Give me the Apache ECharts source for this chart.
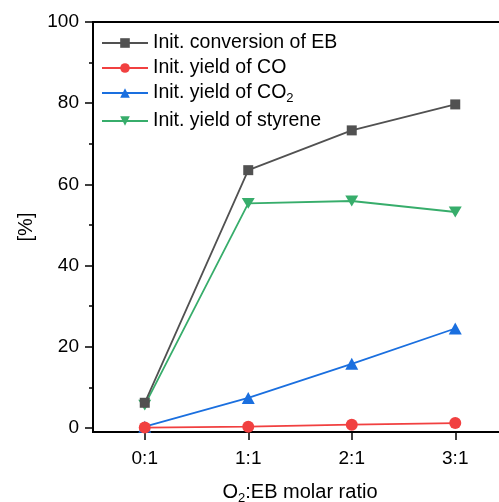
<!DOCTYPE html>
<html>
<head>
<meta charset="utf-8">
<script src="https://cdn.jsdelivr.net/npm/echarts@6/dist/echarts.min.js"></script>
<style>
html,body{margin:0;padding:0;background:#fff;}
#chart{width:499px;height:502px;}
</style>
</head>
<body>
<div id="chart"></div>
<script>
const categories = ['0:1', '1:1', '2:1', '3:1'];
const convEB = [6.2, 63.5, 73.3, 79.7];
const yieldCO = [0.1, 0.3, 0.8, 1.2];
const yieldCO2 = [0.3, 7.4, 15.8, 24.5];
const yieldStyrene = [5.6, 55.3, 55.9, 53.2];
const yMajorTicks = [0, 20, 40, 60, 80, 100];
const yMinorTicks = [10, 30, 50, 70, 90];

const FONT = 'Arial, "Liberation Sans", sans-serif';
const colors = ['#515151', '#F14040', '#1A6FDF', '#37AD6B'];
const names = ['Init. conversion of EB', 'Init. yield of CO', 'Init. yield of CO2', 'Init. yield of styrene'];
const symbols = ['rect', 'circle', 'triangle', 'path://M0,0 L10,0 L5,9 Z'];
const symbolSizes = [10, 12, [13, 12], [13, 12]];
const dataSets = [convEB, yieldCO, yieldCO2, yieldStyrene];

const richText = {
  n: {fontSize: 19.5, fontFamily: FONT, color: '#000'},
  sub: {fontSize: 13, fontFamily: FONT, color: '#000', verticalAlign: 'bottom', padding: [10, 0, 0, 0]}
};

const chart = echarts.init(document.getElementById('chart'), null, {renderer: 'canvas'});

const series = dataSets.map((d, i) => ({
  name: names[i],
  type: 'line',
  data: d,
  symbol: symbols[i],
  symbolSize: symbolSizes[i],
  symbolKeepAspect: true,
  lineStyle: {color: colors[i], width: 1.8},
  itemStyle: {color: colors[i]},
  z: 10 - i
}));

const legendTops = [28, 53, 78, 106];
const legends = names.map((nm, i) => ({
  show: true,
  left: 96,
  top: legendTops[i],
  orient: 'vertical',
  data: [nm],
  itemWidth: 46,
  itemHeight: 12,
  itemGap: 0,
  textStyle: {fontSize: 19.5, fontFamily: FONT, color: '#000', rich: richText},
  formatter: function (n) {
    if (n === 'Init. yield of CO2') return '{n|Init. yield of CO}{sub|2}';
    return '{n|' + n + '}';
  }
}));

chart.setOption({
  animation: false,
  backgroundColor: '#fff',
  color: colors,
  grid: {left: 93, right: -8, top: 22, bottom: 70, outerBoundsMode: 'none', containLabel: false, show: true, borderColor: '#000', borderWidth: 2, backgroundColor: 'transparent'},
  legend: legends,
  xAxis: {
    type: 'category',
    data: categories,
    boundaryGap: true,
    name: '{n|O}{sub|2}{n|:EB molar ratio}',
    nameLocation: 'middle',
    nameGap: 48,
    nameTextStyle: {fontSize: 20, fontFamily: FONT, color: '#000', rich: {
      n: {fontSize: 20, fontFamily: FONT, color: '#000'},
      sub: {fontSize: 13, fontFamily: FONT, color: '#000', verticalAlign: 'bottom', padding: [12, 0, 0, 0]}
    }},
    axisLine: {show: true, onZero: false, lineStyle: {color: '#000', width: 2}},
    axisTick: {show: true, alignWithLabel: true, inside: false, length: 8, lineStyle: {color: '#000', width: 1.5}},
    axisLabel: {fontSize: 19, fontFamily: FONT, color: '#000', margin: 17},
    splitLine: {show: false}
  },
  yAxis: [{
    type: 'value',
    min: -1,
    max: 100,
    name: '[%]',
    nameLocation: 'middle',
    nameGap: 55,
    nameTextStyle: {fontSize: 20, fontFamily: FONT, color: '#000'},
    axisLine: {show: true, lineStyle: {color: '#000', width: 2}},
    axisTick: {show: true, length: 8, customValues: yMajorTicks, lineStyle: {color: '#000', width: 1.5}},
    axisLabel: {fontSize: 19, fontFamily: FONT, color: '#000', margin: 14, customValues: yMajorTicks},
    splitLine: {show: false}
  }, {
    type: 'value',
    min: -1,
    max: 100,
    position: 'left',
    axisLine: {show: false},
    axisTick: {show: true, length: 4, customValues: yMinorTicks, lineStyle: {color: '#000', width: 1.5}},
    axisLabel: {show: false},
    splitLine: {show: false}
  }],
  series: series
});
</script>
</body>
</html>
